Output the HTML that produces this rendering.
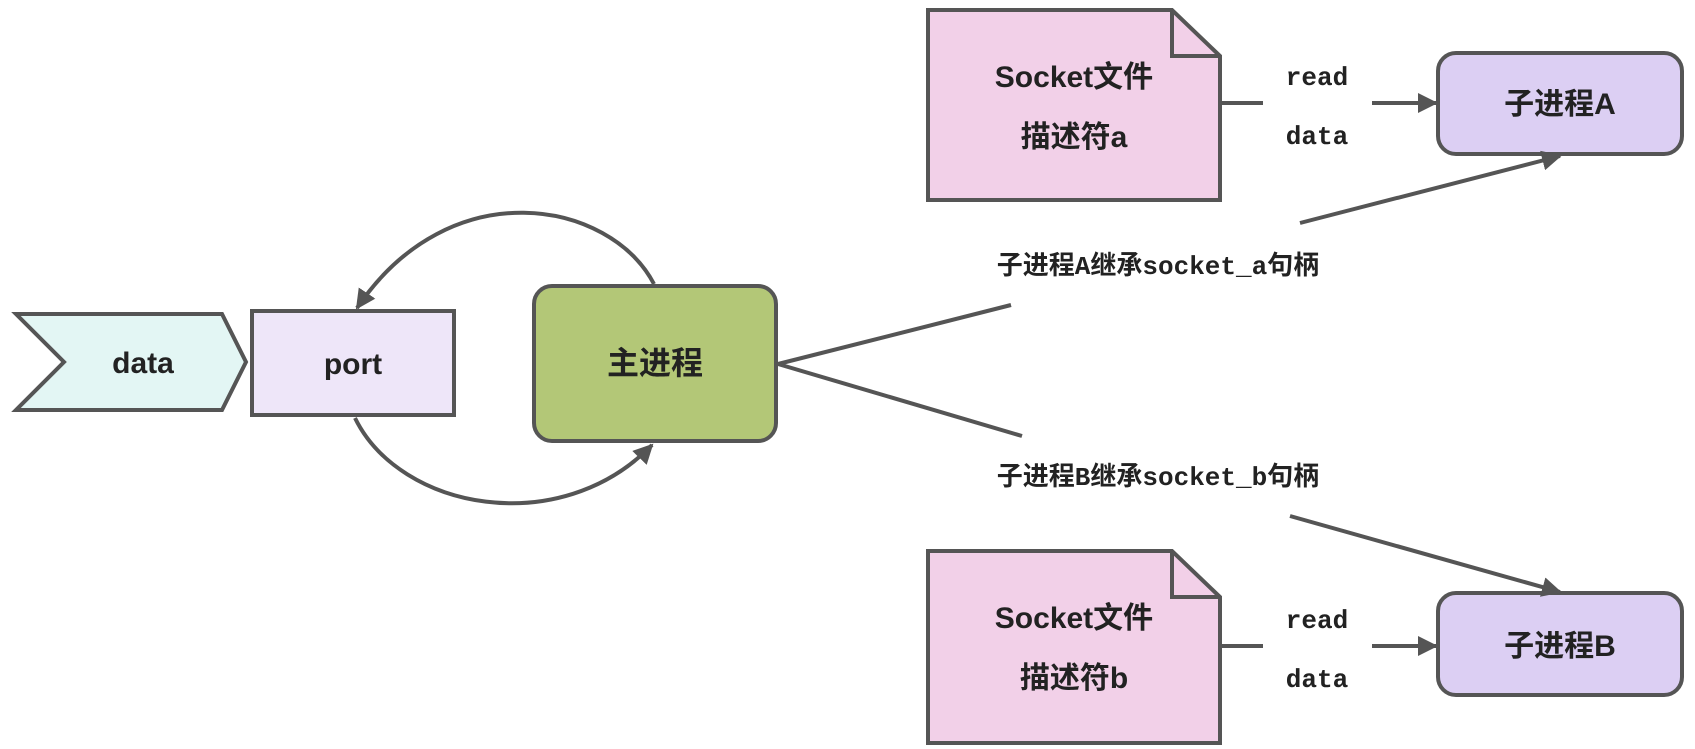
<!DOCTYPE html>
<html><head><meta charset="utf-8"><style>
body{margin:0;background:#fff;}
svg{display:block}
.b{font-family:"Liberation Sans","Noto Sans CJK SC",sans-serif;font-weight:bold;fill:#222;}
.m{font-family:"Liberation Mono","Noto Sans CJK SC",monospace;font-weight:bold;fill:#222;}
</style></head><body>
<svg width="1695" height="749" viewBox="0 0 1695 749" xmlns="http://www.w3.org/2000/svg">
<defs>
<marker id="ar" viewBox="0 0 10 10" refX="9" refY="5" markerWidth="5" markerHeight="5" orient="auto" markerUnits="strokeWidth">
<path d="M0,0 L10,5 L0,10 z" fill="#555"/></marker>
</defs>
<g stroke="#555" stroke-width="4" fill="none">
<!-- data chevron -->
<polygon points="16,314 222,314 246,362 222,410 16,410 64,362" fill="#e3f6f4"/>
<rect x="252" y="311" width="202" height="104" fill="#eee6f9"/>
<rect x="534" y="286" width="242" height="155" rx="18" fill="#b3c777"/>
<!-- socket a -->
<path d="M928,10 L1172,10 L1220,56 L1220,200 L928,200 Z" fill="#f2d0e8"/>
<path d="M1172,10 L1172,56 L1220,56" />
<path d="M928,551 L1172,551 L1220,597 L1220,743 L928,743 Z" fill="#f2d0e8"/>
<path d="M1172,551 L1172,597 L1220,597" />
<rect x="1438" y="53" width="244" height="101" rx="18" fill="#dccff3"/>
<rect x="1438" y="593" width="244" height="102" rx="18" fill="#dccff3"/>
<!-- connectors -->
<line x1="1220" y1="103" x2="1263" y2="103"/>
<line x1="1372" y1="103" x2="1436" y2="103" marker-end="url(#ar)"/>
<line x1="1220" y1="646" x2="1263" y2="646"/>
<line x1="1372" y1="646" x2="1436" y2="646" marker-end="url(#ar)"/>
<line x1="778" y1="364" x2="1011" y2="305"/>
<line x1="1300" y1="223" x2="1560" y2="156" marker-end="url(#ar)"/>
<line x1="778" y1="364" x2="1022" y2="436"/>
<line x1="1290" y1="516" x2="1560" y2="592" marker-end="url(#ar)"/>
<path d="M654,284 C610,200 450,170 357,308" marker-end="url(#ar)"/>
<path d="M355,418 C400,510 560,540 652,445" marker-end="url(#ar)"/>
</g>
<text class="b" x="143" y="373" font-size="30" text-anchor="middle">data</text>
<text class="b" x="353" y="374" font-size="30" text-anchor="middle">port</text>
<text class="b" x="655" y="374" font-size="32" text-anchor="middle">主进程</text>
<text class="b" x="1074" y="87" font-size="30" text-anchor="middle">Socket文件</text>
<text class="b" x="1074" y="147" font-size="30" text-anchor="middle">描述符a</text>
<text class="b" x="1074" y="628" font-size="30" text-anchor="middle">Socket文件</text>
<text class="b" x="1074" y="688" font-size="30" text-anchor="middle">描述符b</text>
<text class="b" x="1560" y="114" font-size="30" text-anchor="middle">子进程A</text>
<text class="b" x="1560" y="656" font-size="30" text-anchor="middle">子进程B</text>
<text class="m" x="1317" y="85" font-size="26" text-anchor="middle">read</text>
<text class="m" x="1317" y="144" font-size="26" text-anchor="middle">data</text>
<text class="m" x="1317" y="628" font-size="26" text-anchor="middle">read</text>
<text class="m" x="1317" y="687" font-size="26" text-anchor="middle">data</text>
<text class="m" x="1158" y="274" font-size="26" text-anchor="middle">子进程A继承socket_a句柄</text>
<text class="m" x="1158" y="485" font-size="26" text-anchor="middle">子进程B继承socket_b句柄</text>
</svg>
</body></html>
